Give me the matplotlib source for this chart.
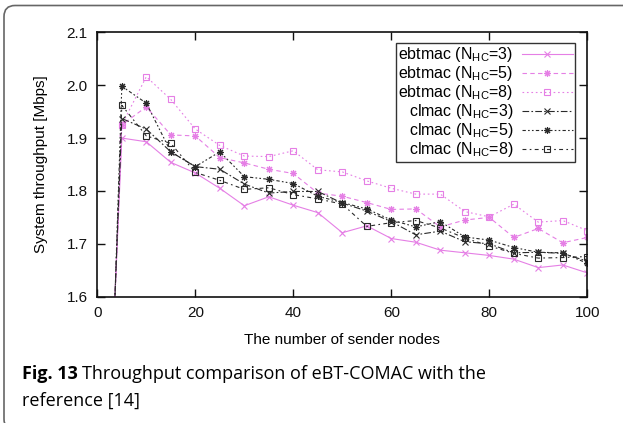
import matplotlib
matplotlib.use('Agg')
import matplotlib.pyplot as plt
from matplotlib.patches import FancyBboxPatch

######### DADOS #########

nodes = [2, 5, 10, 15, 20, 25, 30, 35, 40, 45, 50, 55, 60, 65, 70, 75, 80, 85, 90, 95, 100]

ebtmac_3 = [1.257, 1.900, 1.893, 1.854, 1.834, 1.805, 1.772, 1.789, 1.773, 1.759, 1.721,
            1.734, 1.710, 1.703, 1.688, 1.683, 1.678, 1.671, 1.655, 1.660, 1.645]
ebtmac_5 = [1.229, 1.925, 1.959, 1.906, 1.904, 1.863, 1.853, 1.841, 1.833, 1.796, 1.790,
            1.778, 1.765, 1.766, 1.732, 1.745, 1.750, 1.712, 1.729, 1.702, 1.712]
ebtmac_8 = [1.229, 1.925, 2.016, 1.973, 1.917, 1.886, 1.866, 1.865, 1.876, 1.840, 1.836,
            1.819, 1.805, 1.794, 1.794, 1.761, 1.751, 1.775, 1.741, 1.744, 1.725]
clmac_3 = [1.215, 1.937, 1.917, 1.874, 1.846, 1.841, 1.813, 1.796, 1.799, 1.799, 1.777,
           1.762, 1.742, 1.717, 1.724, 1.704, 1.700, 1.683, 1.684, 1.682, 1.667]
clmac_5 = [1.143, 1.998, 1.966, 1.874, 1.846, 1.874, 1.827, 1.822, 1.814, 1.790, 1.778,
           1.766, 1.745, 1.732, 1.742, 1.713, 1.707, 1.693, 1.684, 1.683, 1.663]
clmac_8 = [1.186, 1.962, 1.904, 1.890, 1.835, 1.820, 1.803, 1.806, 1.793, 1.785, 1.775,
           1.733, 1.740, 1.744, 1.730, 1.711, 1.696, 1.682, 1.673, 1.674, 1.676]

labels = [r'ebtmac (N$_{\mathrm{HC}}$=3)', r'ebtmac (N$_{\mathrm{HC}}$=5)', r'ebtmac (N$_{\mathrm{HC}}$=8)',
          r'clmac (N$_{\mathrm{HC}}$=3)', r'clmac (N$_{\mathrm{HC}}$=5)', r'clmac (N$_{\mathrm{HC}}$=8)']

######### ESTILO #########

plt.rcParams['font.family'] = ['Liberation Sans', 'DejaVu Sans']
plt.rcParams['mathtext.fontset'] = 'custom'
plt.rcParams['mathtext.rm'] = 'Liberation Sans'
plt.rcParams['mathtext.it'] = 'Liberation Sans:italic'

rosa = '#e57fe5'
preto = '#2a2a2a'
asterisco = (8, 2, 0)  # + e x juntos, tipo o pt 3 do gnuplot

estilos = [
    dict(color=rosa, ls='-', marker='x'),
    dict(color=rosa, ls=(0, (4, 3)), marker=asterisco),
    dict(color=rosa, ls=(0, (1.5, 2.5)), marker='s', mfc='none'),
    dict(color=preto, ls=(0, (6, 2, 1.5, 2)), marker='x'),
    dict(color=preto, ls=(0, (3, 2, 1.5, 2, 1.5, 2)), marker=asterisco),
    dict(color=preto, ls=(0, (3.5, 3, 1.5, 3)), marker='s', mfc='none'),
]

fig = plt.figure(figsize=(6.23, 4.23), dpi=100)
ax = fig.add_axes([0.1562, 0.2986, 0.7865, 0.625])

series = [ebtmac_3, ebtmac_5, ebtmac_8, clmac_3, clmac_5, clmac_8]
for y, lab, st in zip(series, labels, estilos):
    ax.plot(nodes, y, label=lab, lw=0.8, ms=5, mew=0.8, **st)

ax.set_xlim(0, 100)
ax.set_ylim(1.6, 2.1)
ax.set_xticks([0, 20, 40, 60, 80, 100])
ax.set_yticks([1.6, 1.7, 1.8, 1.9, 2.0, 2.1])
ax.set_yticklabels(['1.6', '1.7', '1.8', '1.9', '2.0', '2.1'])
ax.tick_params(direction='in', length=6, width=1, top=True, right=True,
               labelsize=11, pad=7, colors='#111111')
for s in ax.spines.values():
    s.set_linewidth(1.2)
    s.set_color('#111111')

ax.set_xlabel('The number of sender nodes', fontsize=11, labelpad=9)
ax.set_ylabel('System throughput [Mbps]', fontsize=11, labelpad=13)

leg = ax.legend(loc='upper right', bbox_to_anchor=(0.975, 0.96), markerfirst=False,
                fontsize=11.5, handlelength=3.2, handletextpad=0.5, labelspacing=0.0,
                borderpad=0.15, borderaxespad=0, fancybox=False, framealpha=1,
                edgecolor='#333333')
leg.get_frame().set_linewidth(1.0)

# borda arredondada em volta da figura toda (em pixels)
borda = FancyBboxPatch((4, -7), 660, 424.5, boxstyle='round,pad=0,rounding_size=11',
                       transform=None, fill=False, edgecolor='#666666', lw=1.2)
fig.patches.append(borda)

# legenda da figura
r = fig.canvas.get_renderer()
fonte = ['Open Sans', 'DejaVu Sans']
t1 = fig.text(22 / 623, 1 - 374 / 423, 'Fig. 13', fontsize=13, fontweight='bold',
              family=fonte, va='center', ha='left')
bb = t1.get_window_extent(renderer=r)
fig.text((bb.x1 + 4) / 623, 1 - 374 / 423, 'Throughput comparison of eBT-COMAC with the',
         fontsize=13, family=fonte, va='center', ha='left')
fig.text(22 / 623, 1 - 401 / 423, 'reference [14]', fontsize=13,
         family=fonte, va='center', ha='left')

fig.savefig('out.png', dpi=100)
